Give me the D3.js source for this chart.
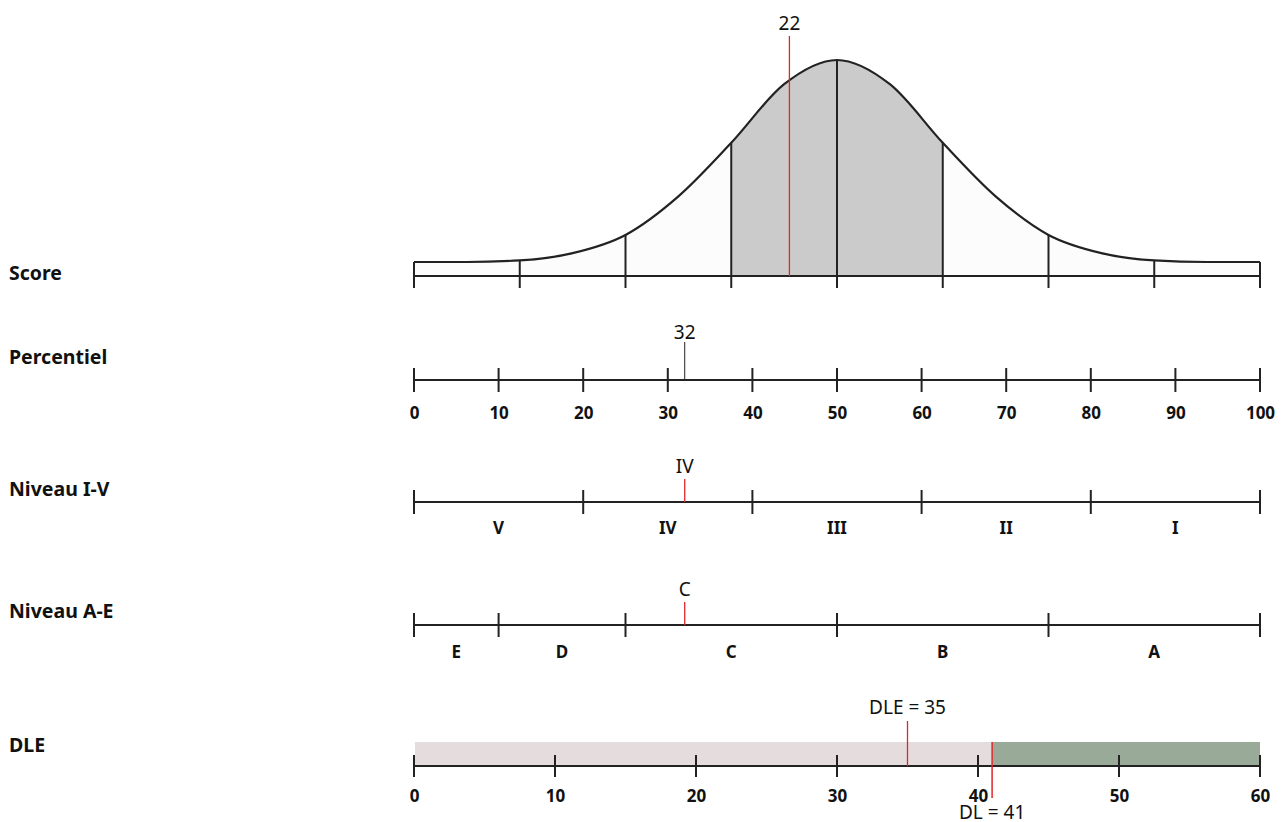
<!DOCTYPE html>
<html lang="nl">
<head>
<meta charset="utf-8">
<title>Score profiel</title>
<script src="https://d3js.org/d3.v7.min.js"></script>
<style>
  body { margin: 0; background: #fff; }
  text { font-family: "Noto Sans", sans-serif; fill: #111; }
</style>
</head>
<body>
<script>
// data
const rowLabels = ["Score", "Percentiel", "Niveau I-V", "Niveau A-E", "DLE"]

// bell curve (z = standard deviations, height relative to top)
const curveZ = [-4, -3.5, -3, -2.5, -2, -1.5, -1, -0.5, 0, 0.5, 1, 1.5, 2, 2.5, 3, 3.5, 4]
const curveH = [0, 0, 0.008, 0.044, 0.134, 0.325, 0.59, 0.88, 1, 0.88, 0.59, 0.325, 0.134, 0.044, 0.008, 0, 0]
const scoreTicks = [-4, -3, -2, -1, 0, 1, 2, 3, 4]
const shadedBand = [-1, 1]
const scoreZ = -0.45
const scoreLabel = "22"

const percentileTicks = [0, 10, 20, 30, 40, 50, 60, 70, 80, 90, 100]
const percentileValue = 32

const romanBounds = [0, 20, 40, 60, 80, 100]
const romanNames = ["V", "IV", "III", "II", "I"]
const romanMarker = { pct: 32, label: "IV" }

const letterBounds = [0, 10, 25, 50, 75, 100]
const letterNames = ["E", "D", "C", "B", "A"]
const letterMarker = { pct: 32, label: "C" }

const dleTicks = [0, 10, 20, 30, 40, 50, 60]
const dleValue = 35
const dlValue = 41

// layout
const W = 1281, H = 822
const x0 = 414, x1 = 1260
const ink = "#222"
const red = "#e0262b"

const svg = d3.select("body").append("svg")
    .attr("width", W).attr("height", H)

// row labels
const labelY = [280, 364, 496, 618, 752]
svg.selectAll(".rowlabel")
    .data(rowLabels)
    .enter().append("text")
    .attr("class", "rowlabel")
    .attr("x", 9)
    .attr("y", (d, i) => labelY[i])
    .style("font-weight", "bold")
    .style("font-size", "19.5px")
    .text(d => d)

function marker(g, x, yTop, yBot, label, labelY, color, width) {
    g.append("line")
        .attr("x1", x).attr("x2", x)
        .attr("y1", yTop).attr("y2", yBot)
        .attr("stroke", color).attr("stroke-width", width)
    g.append("text")
        .attr("x", x).attr("y", labelY)
        .attr("text-anchor", "middle")
        .style("font-size", "19px")
        .text(label)
}

function tickLine(g, xs, y, up, down) {
    g.selectAll(null)
        .data(xs)
        .enter().append("line")
        .attr("x1", d => d).attr("x2", d => d)
        .attr("y1", y - up).attr("y2", y + down)
        .attr("stroke", ink).attr("stroke-width", 2)
}

function baseLine(g, y) {
    g.append("line")
        .attr("x1", x0).attr("x2", x1)
        .attr("y1", y).attr("y2", y)
        .attr("stroke", ink).attr("stroke-width", 2)
}

// ---- Score: bell curve
const zScale = d3.scaleLinear().domain([-4, 4]).range([x0, x1])
const hScale = d3.scaleLinear().domain([0, 1]).range([262, 60])
const scoreBase = 276
const pts = curveZ.map((z, i) => ({ z: z, h: curveH[i] }))

const score = svg.append("g")

const area = d3.area()
    .x(d => zScale(d.z))
    .y0(scoreBase)
    .y1(d => hScale(d.h))
    .curve(d3.curveMonotoneX)

score.append("path")
    .datum(pts)
    .attr("d", area)
    .attr("fill", "#fcfcfc")

score.append("clipPath").attr("id", "band")
    .append("rect")
    .attr("x", zScale(shadedBand[0])).attr("y", 0)
    .attr("width", zScale(shadedBand[1]) - zScale(shadedBand[0]))
    .attr("height", scoreBase)

score.append("path")
    .datum(pts)
    .attr("d", area)
    .attr("clip-path", "url(#band)")
    .attr("fill", "#cbcbcb")

score.append("path")
    .datum(pts)
    .attr("d", d3.line().x(d => zScale(d.z)).y(d => hScale(d.h)).curve(d3.curveMonotoneX))
    .attr("fill", "none")
    .attr("stroke", ink)
    .attr("stroke-width", 2.2)

score.selectAll(".sv")
    .data(scoreTicks)
    .enter().append("line")
    .attr("x1", d => zScale(d)).attr("x2", d => zScale(d))
    .attr("y1", d => hScale(curveH[curveZ.indexOf(d)]))
    .attr("y2", scoreBase + 12)
    .attr("stroke", ink).attr("stroke-width", 2)

baseLine(score, scoreBase)
marker(score, zScale(scoreZ), 36, scoreBase, scoreLabel, 30, red, 1.3)

// ---- Percentiel
const pScale = d3.scaleLinear().domain([0, 100]).range([x0, x1])
const pY = 380
const perc = svg.append("g")
baseLine(perc, pY)
tickLine(perc, percentileTicks.map(pScale), pY, 12, 12)
perc.append("g")
    .attr("transform", "translate(0," + pY + ")")
    .call(d3.axisBottom(pScale).tickValues(percentileTicks).tickSize(0).tickPadding(27))
    .call(g => g.select(".domain").remove())
    .selectAll("text")
    .style("font-size", "17px")
    .style("font-weight", "bold")
    .style("font-family", "Noto Sans, sans-serif")
    .attr("fill", "#111")
marker(perc, pScale(percentileValue), 342, pY, String(percentileValue), 339, ink, 1)

// ---- band rows (Niveau I-V, Niveau A-E)
function bandRow(bounds, names, mk, y, textY, labelYpos) {
    const g = svg.append("g")
    baseLine(g, y)
    tickLine(g, bounds.map(pScale), y, 12, 12)
    g.selectAll(".bl")
        .data(names)
        .enter().append("text")
        .attr("x", (d, i) => (pScale(bounds[i]) + pScale(bounds[i + 1])) / 2)
        .attr("y", textY)
        .attr("text-anchor", "middle")
        .style("font-size", "17px")
        .style("font-weight", "bold")
        .text(d => d)
    marker(g, pScale(mk.pct), y - 23, y, mk.label, labelYpos, red, 1.3)
}
bandRow(romanBounds, romanNames, romanMarker, 502, 534, 473)
bandRow(letterBounds, letterNames, letterMarker, 625, 658, 596)

// ---- DLE
const dScale = d3.scaleLinear().domain([0, 60]).range([x0, x1])
const dY = 766
const dle = svg.append("g")
dle.append("rect")
    .attr("x", dScale(0) + 1).attr("y", 742)
    .attr("width", dScale(dlValue) - dScale(0) - 1).attr("height", dY - 742)
    .attr("fill", "#e4dcdd")
dle.append("rect")
    .attr("x", dScale(dlValue)).attr("y", 742)
    .attr("width", dScale(60) - dScale(dlValue)).attr("height", dY - 742)
    .attr("fill", "#9aaa98")
baseLine(dle, dY)
tickLine(dle, dleTicks.map(dScale), dY, 11, 11)
dle.append("g")
    .attr("transform", "translate(0," + dY + ")")
    .call(d3.axisBottom(dScale).tickValues(dleTicks).tickSize(0).tickPadding(24))
    .call(g => g.select(".domain").remove())
    .selectAll("text")
    .style("font-size", "17px")
    .style("font-weight", "bold")
    .style("font-family", "Noto Sans, sans-serif")
    .attr("fill", "#111")
marker(dle, dScale(dleValue), 721, dY, "DLE = " + dleValue, 714, red, 1.3)
marker(dle, dScale(dlValue), 742, 798, "DL = " + dlValue, 819, red, 1.5)
</script>
</body>
</html>
